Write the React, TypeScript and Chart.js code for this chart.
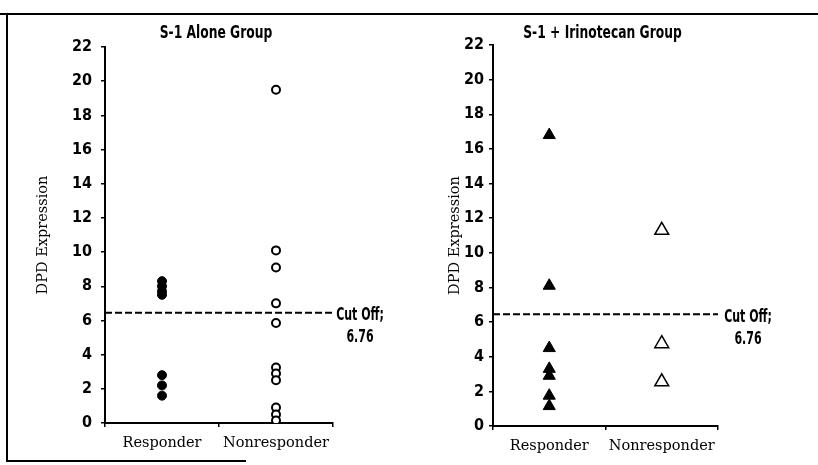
import React, { useEffect, useRef } from 'react';
import { Chart, registerables } from 'chart.js';

Chart.register(...registerables);

// ---- data ----
const CATEGORIES = ['Responder', 'Nonresponder'];
const Y_MIN = 0;
const Y_MAX = 22;
const Y_STEP = 2;
const Y_TITLE = 'DPD Expression';

const S1_TITLE = 'S-1 Alone Group';
const S1_RESPONDER = [8.3, 8.0, 7.7, 7.5, 2.8, 2.2, 1.6];
const S1_NONRESPONDER = [19.5, 10.1, 9.1, 7.0, 5.85, 3.25, 2.9, 2.5, 0.9, 0.5, 0.15];

const IRI_TITLE = 'S-1 + Irinotecan Group';
const IRI_RESPONDER = [16.8, 8.1, 4.5, 3.3, 2.9, 1.75, 1.15];
const IRI_NONRESPONDER = [11.3, 4.75, 2.55];

const CUTOFF_LINE = 6.45;
const CUTOFF_TEXT = ['Cut Off;', '6.76'];

const CONDENSED = "'Liberation Sans Narrow', 'DejaVu Sans Condensed', sans-serif";
const SERIF = "'DejaVu Serif', serif";

function narrowText(ctx: any, text: string, x: number, y: number, sx: number) {
  ctx.save();
  ctx.translate(x, y);
  ctx.scale(sx, 1);
  ctx.fillText(text, 0, 0);
  ctx.restore();
}

const annotPlugin = {
  id: 'annot',
  afterDraw(chart: any, _args: any, opts: any) {
    const { ctx, chartArea, scales } = chart;
    ctx.save();
    ctx.fillStyle = '#000';
    ctx.textAlign = 'center';
    ctx.textBaseline = 'middle';
    ctx.font = `bold 18px ${CONDENSED}`;
    narrowText(ctx, opts.title, (chartArea.left + chartArea.right) / 2 - 3, 33, 0.76);
    const y = scales.y.getPixelForValue(CUTOFF_LINE);
    ctx.font = `bold 17px ${CONDENSED}`;
    narrowText(ctx, CUTOFF_TEXT[0], chartArea.right + opts.labelDx, y + 3, 0.72);
    narrowText(ctx, CUTOFF_TEXT[1], chartArea.right + opts.labelDx, y + 25, 0.72);
    ctx.restore();
  },
};

type PanelProps = {
  title: string;
  responder: number[];
  nonresponder: number[];
  shape: 'circle' | 'triangle';
  width: number;
  left: number;
  yWidth: number;
  xHeight: number;
  padTop: number;
  padRight: number;
  tickPad: number;
  titlePad: number;
  labelDx: number;
};

function Panel(p: PanelProps) {
  const ref = useRef<HTMLCanvasElement | null>(null);
  useEffect(() => {
    if (!ref.current) return;
    const tri = p.shape === 'triangle';
    const chart = new Chart(ref.current, {
      type: 'scatter',
      data: {
        labels: CATEGORIES,
        datasets: [
          {
            data: p.responder.map((v) => ({ x: CATEGORIES[0], y: v })),
            pointStyle: p.shape,
            pointRadius: tri ? 7 : 4.5,
            backgroundColor: '#000',
            borderColor: '#000',
            borderWidth: 1,
          },
          {
            data: p.nonresponder.map((v) => ({ x: CATEGORIES[1], y: v })),
            pointStyle: p.shape,
            pointRadius: tri ? 8 : 4,
            backgroundColor: '#fff',
            borderColor: '#000',
            borderWidth: tri ? 1.5 : 2,
          },
          {
            data: [
              { x: 0, y: CUTOFF_LINE },
              { x: 1, y: CUTOFF_LINE },
            ],
            xAxisID: 'xc',
            showLine: true,
            borderColor: '#000',
            borderWidth: 2,
            borderDash: [7, 3],
            pointRadius: 0,
          },
        ] as any,
      },
      options: {
        animation: false,
        responsive: false,
        layout: { padding: { top: p.padTop, right: p.padRight, left: 0, bottom: 0 } },
        plugins: {
          legend: { display: false },
          tooltip: { enabled: false },
          annot: { title: p.title, labelDx: p.labelDx },
        } as any,
        scales: {
          x: {
            type: 'category',
            labels: CATEGORIES,
            offset: true,
            grid: { drawOnChartArea: false, tickLength: 4, color: '#000', offset: true, lineWidth: 1.5 },
            border: { color: '#000', width: 2 },
            ticks: { color: '#000', font: { family: SERIF, size: 14.5 }, padding: 8 },
            afterFit: (s: any) => {
              s.height = p.xHeight;
            },
          },
          xc: { type: 'linear', display: false, min: 0, max: 1 },
          y: {
            min: Y_MIN,
            max: Y_MAX,
            ticks: {
              stepSize: Y_STEP,
              color: '#000',
              font: { family: CONDENSED, size: 16, weight: 'bold' },
              padding: p.tickPad,
            },
            grid: { drawOnChartArea: false, tickLength: 4, color: '#000', lineWidth: 1.5 },
            border: { color: '#000', width: 2 },
            title: {
              display: true,
              text: Y_TITLE,
              color: '#000',
              font: { family: SERIF, size: 14.5 },
              padding: { top: p.titlePad, bottom: 0 },
            },
            afterFit: (s: any) => {
              s.width = p.yWidth;
            },
          },
        } as any,
      },
      plugins: [annotPlugin],
    });
    return () => chart.destroy();
  }, []);
  return (
    <canvas
      ref={ref}
      width={p.width}
      height={465}
      style={{ position: 'absolute', left: p.left, top: 0, width: p.width, height: 465, display: 'block' }}
    />
  );
}

export default function App() {
  return (
    <div style={{ position: 'absolute', left: 0, top: 0, width: 818, height: 465, background: '#fff', overflow: 'hidden' }}>
      <Panel
        title={S1_TITLE}
        responder={S1_RESPONDER}
        nonresponder={S1_NONRESPONDER}
        shape="circle"
        width={410}
        left={0}
        yWidth={105}
        xHeight={42}
        padTop={47}
        padRight={77}
        tickPad={9}
        titlePad={34.3}
        labelDx={27}
      />
      <Panel
        title={IRI_TITLE}
        responder={IRI_RESPONDER}
        nonresponder={IRI_NONRESPONDER}
        shape="triangle"
        width={408}
        left={410}
        yWidth={83}
        xHeight={39}
        padTop={45}
        padRight={100}
        tickPad={5}
        titlePad={36.3}
        labelDx={30}
      />
      <div style={{ position: 'absolute', left: 0, top: 13, width: 818, height: 2, background: '#000' }} />
      <div style={{ position: 'absolute', left: 6, top: 13, width: 2, height: 449, background: '#000' }} />
      <div style={{ position: 'absolute', left: 6, top: 460, width: 240, height: 2, background: '#000' }} />
    </div>
  );
}
